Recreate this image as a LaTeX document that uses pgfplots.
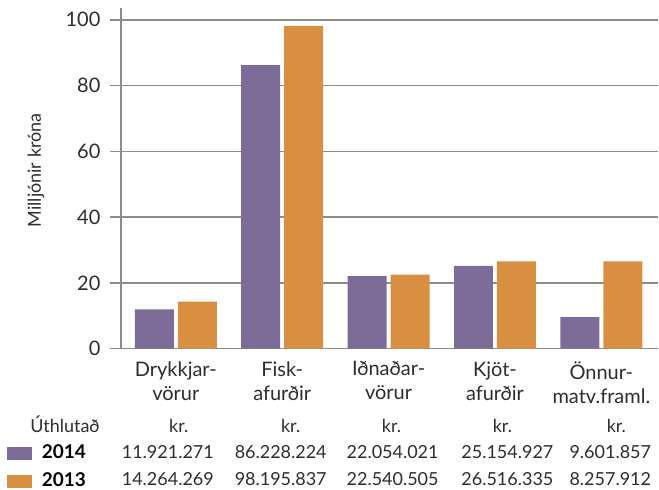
\documentclass[border=0pt]{standalone}
\usepackage{fontspec}
\setmainfont{Lato}
\usepackage{pgfplots}
\usepackage{pgfplotstable}
\pgfplotsset{compat=1.18}
\definecolor{cA}{RGB}{125,108,151}
\definecolor{cB}{RGB}{217,143,65}
\definecolor{gridc}{RGB}{140,140,140}
\definecolor{txt}{RGB}{45,45,45}
\pgfplotsset{/pgfplots/ybar legend/.style={/pgfplots/legend image code/.code={\fill[##1] (0pt,-7.85pt) rectangle (25pt,5.15pt);}}}
\pgfplotstableread{
x  a      b
0  11.921 14.264
1  86.228 98.196
2  22.054 22.541
3  25.155 26.516
4  9.602  26.500
}\datatab
\newcommand{\tabf}{\fontsize{18}{18}\selectfont}
\begin{document}
\begin{tikzpicture}
\begin{axis}[
  scale only axis, width=538pt, height=341pt,
  xmin=-0.5164, xmax=4.5352, ymin=0, ymax=103.6,
  ybar=4pt, bar width=39pt,
  axis lines=left, axis line style={-, draw=gridc, line width=1.4pt},
  ytick={0,20,40,60,80,100},
  ymajorgrids, grid style={draw=gridc, line width=1.4pt},
  xtick={0,1,2,3,4},
  xticklabels={{Drykkjar-\\vörur},{Fisk-\\afurðir},{Iðnaðar-\\vörur},{Kjöt-\\afurðir},{Önnur-\\matv.framl.}},
  xticklabel style={align=center, font=\fontsize{20}{24}\selectfont, text=txt, yshift=1.5pt},
  x tick style={draw=none},
  y tick style={draw=gridc, line width=1.4pt},
  major tick length=11pt, tick align=outside,
  yticklabel style={font=\fontsize{20}{20}\selectfont, text=txt, xshift=-6pt},
  /pgf/number format/assume math mode=true,
  clip=false,
  legend style={draw=none, fill=none, at={(axis cs:-1.5869,-29.26)}, anchor=north west,
    inner sep=0pt, outer sep=0pt, row sep=12.3pt, column sep=10pt,
    nodes={inner sep=0pt, outer sep=0pt},
    font=\bfseries\fontsize{19}{19}\selectfont},
  legend cell align=left,
]
\addplot[fill=cA, draw=none] table[x=x, y=a] {\datatab};
\addlegendentry{2014}
\addplot[fill=cB, draw=none] table[x=x, y=b] {\datatab};
\addlegendentry{2013}
\node[rotate=90, font=\fontsize{18}{18}\selectfont, text=txt] at (axis cs:-1.315,54.2) {Milljónir króna};
\node[anchor=base, font=\tabf, text=txt] at (axis cs:-1.042,-25.52) {Úthlutað};
\node[anchor=base, font=\tabf, text=txt] at (axis cs:0.028,-25.52) {kr.};
\node[anchor=base, font=\tabf, text=txt] at (axis cs:1.080,-25.52) {kr.};
\node[anchor=base, font=\tabf, text=txt] at (axis cs:2.028,-25.52) {kr.};
\node[anchor=base, font=\tabf, text=txt] at (axis cs:3.070,-25.52) {kr.};
\node[anchor=base, font=\tabf, text=txt] at (axis cs:4.141,-25.52) {kr.};
\node[anchor=base, font=\tabf, text=txt] at (axis cs:-0.075,-33.42) {11.921.271};
\node[anchor=base, font=\tabf, text=txt] at (axis cs:0.986,-33.42) {86.228.224};
\node[anchor=base, font=\tabf, text=txt] at (axis cs:2.038,-33.42) {22.054.021};
\node[anchor=base, font=\tabf, text=txt] at (axis cs:3.117,-33.42) {25.154.927};
\node[anchor=base, font=\tabf, text=txt] at (axis cs:4.084,-33.42) {9.601.857};
\node[anchor=base, font=\tabf, text=txt] at (axis cs:-0.075,-41.62) {14.264.269};
\node[anchor=base, font=\tabf, text=txt] at (axis cs:0.986,-41.62) {98.195.837};
\node[anchor=base, font=\tabf, text=txt] at (axis cs:2.038,-41.62) {22.540.505};
\node[anchor=base, font=\tabf, text=txt] at (axis cs:3.117,-41.62) {26.516.335};
\node[anchor=base, font=\tabf, text=txt] at (axis cs:4.084,-41.62) {8.257.912};
\path (axis cs:-1.6526,106.03) rectangle (axis cs:4.5352,-42.84);
\end{axis}
\end{tikzpicture}
\end{document}
